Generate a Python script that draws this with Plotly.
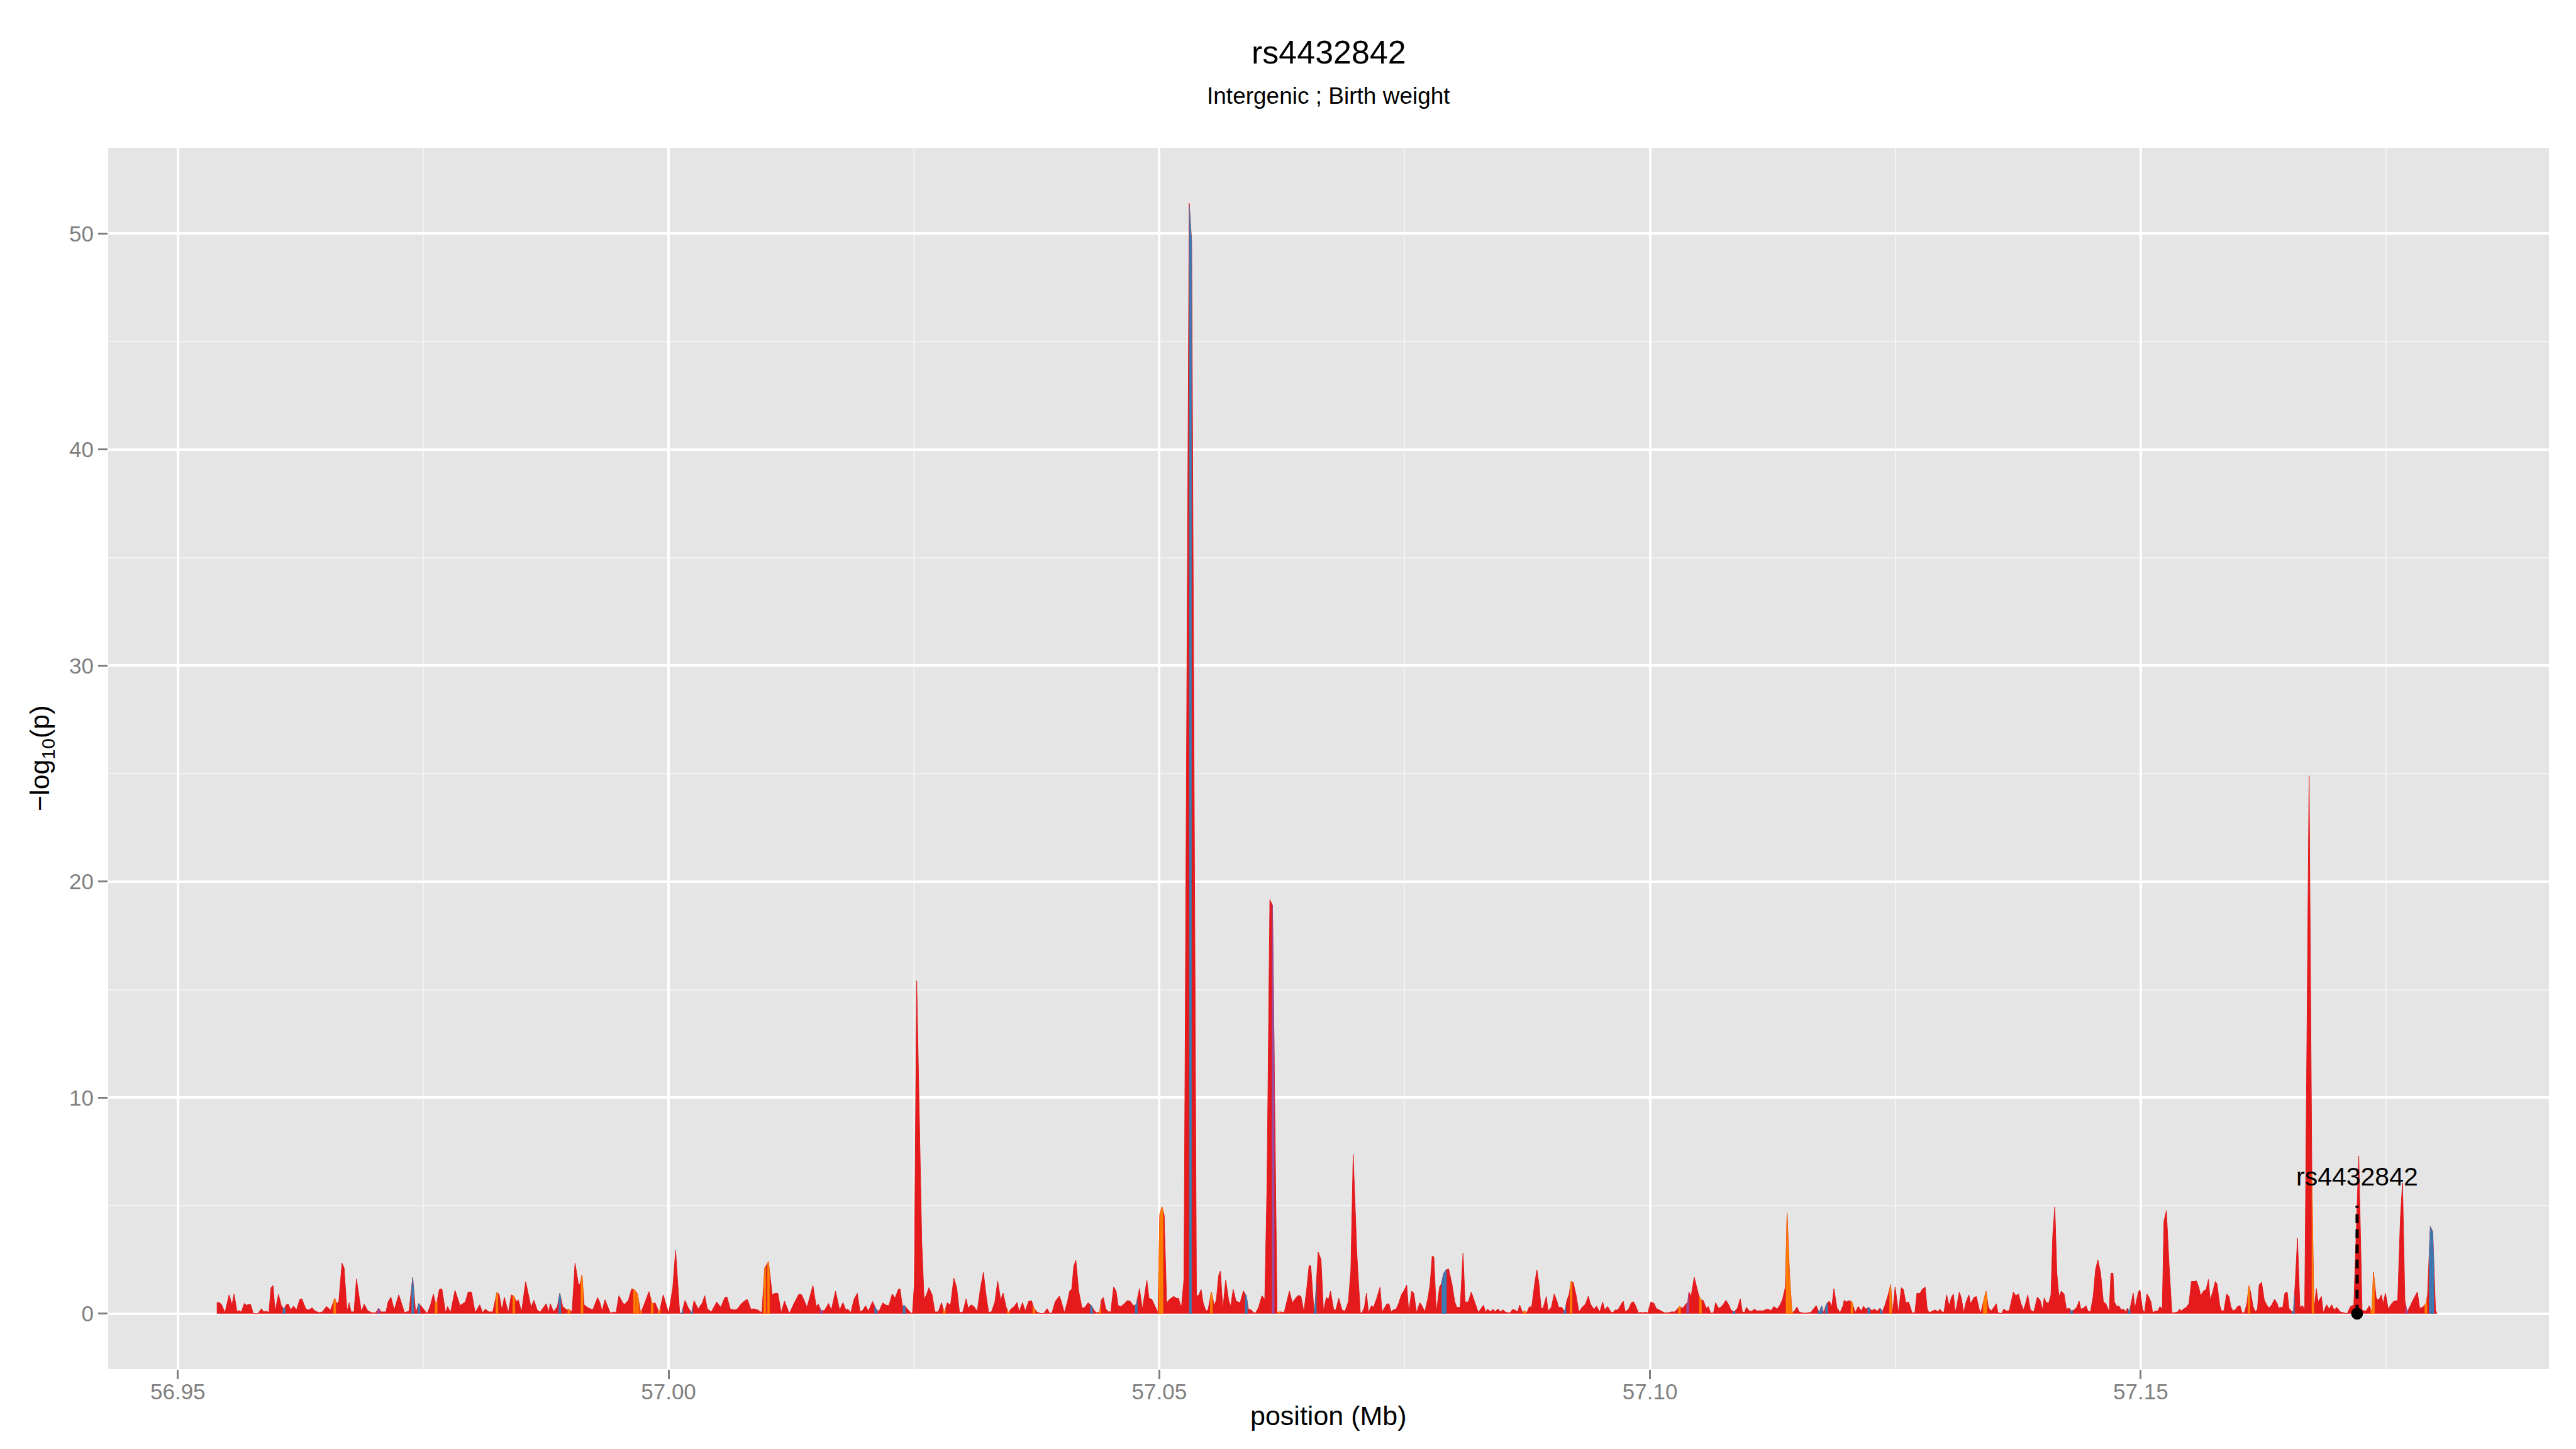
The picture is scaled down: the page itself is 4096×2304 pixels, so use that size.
import numpy as np
import plotly.graph_objects as go

# ---------------- data ----------------
pos_mb = [
    56.95397, 56.95426, 56.95447, 56.95480, 56.95522, 56.95552, 56.95573, 56.95602, 56.95623, 56.95648,
    56.95677, 56.95698, 56.95740, 56.95769, 56.95815, 56.95853, 56.95874, 56.95907, 56.95928, 56.95949,
    56.95970, 56.95991, 56.96025, 56.96054, 56.96083, 56.96104, 56.96125, 56.96150, 56.96179, 56.96209,
    56.96242, 56.96263, 56.96305, 56.96334, 56.96368, 56.96397, 56.96443, 56.96472, 56.96514, 56.96556,
    56.96598, 56.96619, 56.96640, 56.96673, 56.96694, 56.96724, 56.96744, 56.96765, 56.96795, 56.96820,
    56.96849, 56.96870, 56.96899, 56.96933, 56.96975, 56.97017, 56.97046, 56.97071, 56.97121, 56.97142,
    56.97171, 56.97205, 56.97251, 56.97276, 56.97310, 56.97356, 56.97393, 56.97423, 56.97456, 56.97490,
    56.97540, 56.97573, 56.97603, 56.97632, 56.97665, 56.97690, 56.97728, 56.97749, 56.97778, 56.97824,
    56.97875, 56.97929, 56.97958, 56.97992, 56.98029, 56.98076, 56.98105, 56.98134, 56.98168, 56.98209,
    56.98251, 56.98272, 56.98302, 56.98327, 56.98368, 56.98398, 56.98423, 56.98452, 56.98469, 56.98502,
    56.98544, 56.98599, 56.98628, 56.98661, 56.98691, 56.98754, 56.98779, 56.98795, 56.98829, 56.98867,
    56.98892, 56.98921, 56.98963, 56.98984, 56.99017, 56.99047, 56.99080, 56.99097, 56.99118, 56.99139,
    56.99172, 56.99227, 56.99277, 56.99298, 56.99323, 56.99352, 56.99381, 56.99407, 56.99444, 56.99465,
    56.99494, 56.99528, 56.99549, 56.99591, 56.99624, 56.99653, 56.99683, 56.99716, 56.99758, 56.99800,
    56.99833, 56.99863, 56.99905, 56.99946, 57.00001, 57.00043, 57.00072, 57.00114, 57.00135, 57.00168,
    57.00198, 57.00235, 57.00260, 57.00302, 57.00344, 57.00369, 57.00394, 57.00436, 57.00491, 57.00532,
    57.00574, 57.00595, 57.00629, 57.00671, 57.00700, 57.00742, 57.00784, 57.00804, 57.00838, 57.00871,
    57.00909, 57.00951, 57.00980, 57.01018, 57.01056, 57.01085, 57.01114, 57.01148, 57.01181, 57.01231,
    57.01277, 57.01328, 57.01357, 57.01411, 57.01471, 57.01504, 57.01525, 57.01555, 57.01588, 57.01630,
    57.01659, 57.01701, 57.01743, 57.01777, 57.01806, 57.01827, 57.01856, 57.01890, 57.01923, 57.01952,
    57.01982, 57.02007, 57.02036, 57.02078, 57.02111, 57.02141, 57.02183, 57.02216, 57.02245, 57.02279,
    57.02308, 57.02341, 57.02358, 57.02383, 57.02400, 57.02434, 57.02467, 57.02485, 57.02504, 57.02528,
    57.02559, 57.02580, 57.02604, 57.02630, 57.02653, 57.02685, 57.02714, 57.02748, 57.02781, 57.02810,
    57.02840, 57.02873, 57.02907, 57.02936, 57.02965, 57.02999, 57.03032, 57.03053, 57.03082, 57.03112,
    57.03145, 57.03179, 57.03208, 57.03237, 57.03262, 57.03292, 57.03325, 57.03354, 57.03384, 57.03409,
    57.03438, 57.03463, 57.03488, 57.03522, 57.03551, 57.03572, 57.03606, 57.03635, 57.03668, 57.03698,
    57.03723, 57.03752, 57.03794, 57.03827, 57.03857, 57.03886, 57.03907, 57.03940, 57.03982, 57.04003,
    57.04033, 57.04066, 57.04087, 57.04108, 57.04129, 57.04150, 57.04179, 57.04213, 57.04242, 57.04275,
    57.04309, 57.04338, 57.04359, 57.04393, 57.04409, 57.04430, 57.04455, 57.04485, 57.04506, 57.04535,
    57.04560, 57.04581, 57.04610, 57.04644, 57.04673, 57.04702, 57.04736, 57.04765, 57.04798, 57.04828,
    57.04874, 57.04895, 57.04924, 57.04953, 57.04987, 57.05005, 57.05028, 57.05050, 57.05075, 57.05095,
    57.05121, 57.05146, 57.05175, 57.05196, 57.05217, 57.05228, 57.05252, 57.05305, 57.05330, 57.05379,
    57.05405, 57.05426, 57.05447, 57.05476, 57.05497, 57.05531, 57.05560, 57.05581, 57.05606, 57.05623,
    57.05648, 57.05677, 57.05707, 57.05728, 57.05753, 57.05782, 57.05824, 57.05857, 57.05887, 57.05908,
    57.05937, 57.05962, 57.05983, 57.06012, 57.06046, 57.06075, 57.06098, 57.06127, 57.06154, 57.06200,
    57.06220, 57.06243, 57.06272, 57.06305, 57.06326, 57.06356, 57.06381, 57.06402, 57.06423, 57.06444,
    57.06473, 57.06502, 57.06527, 57.06544, 57.06577, 57.06590, 57.06619, 57.06648, 57.06673, 57.06703,
    57.06724, 57.06745, 57.06778, 57.06799, 57.06829, 57.06862, 57.06892, 57.06927, 57.06952, 57.06976,
    57.07013, 57.07049, 57.07069, 57.07090, 57.07111, 57.07132, 57.07162, 57.07182, 57.07216, 57.07249,
    57.07270, 57.07291, 57.07321, 57.07341, 57.07362, 57.07383, 57.07413, 57.07438, 57.07467, 57.07496,
    57.07521, 57.07542, 57.07572, 57.07593, 57.07622, 57.07655, 57.07676, 57.07706, 57.07739, 57.07760,
    57.07781, 57.07798, 57.07823, 57.07856, 57.07873, 57.07898, 57.07923, 57.07948, 57.07982, 57.08011,
    57.08032, 57.08066, 57.08095, 57.08116, 57.08149, 57.08179, 57.08208, 57.08233, 57.08250, 57.08275,
    57.08304, 57.08325, 57.08346, 57.08375, 57.08400, 57.08421, 57.08451, 57.08476, 57.08501, 57.08526,
    57.08547, 57.08576, 57.08597, 57.08618, 57.08652, 57.08673, 57.08702, 57.08723, 57.08744, 57.08773,
    57.08794, 57.08827, 57.08848, 57.08869, 57.08890, 57.08911, 57.08944, 57.08961, 57.08995, 57.09024,
    57.09049, 57.09070, 57.09099, 57.09120, 57.09133, 57.09154, 57.09175, 57.09196, 57.09217, 57.09246,
    57.09275, 57.09309, 57.09342, 57.09372, 57.09392, 57.09415, 57.09434, 57.09455, 57.09489, 57.09518,
    57.09539, 57.09568, 57.09602, 57.09623, 57.09644, 57.09673, 57.09698, 57.09727, 57.09748, 57.09782,
    57.09811, 57.09832, 57.09853, 57.09882, 57.09907, 57.09928, 57.09949, 57.09978, 57.10008, 57.10041,
    57.10062, 57.10091, 57.10125, 57.10146, 57.10188, 57.10217, 57.10250, 57.10271, 57.10301, 57.10334,
    57.10368, 57.10384, 57.10397, 57.10418, 57.10451, 57.10472, 57.10493, 57.10514, 57.10543, 57.10573,
    57.10594, 57.10619, 57.10648, 57.10669, 57.10698, 57.10719, 57.10744, 57.10774, 57.10803, 57.10824,
    57.10857, 57.10891, 57.10920, 57.10941, 57.10962, 57.10983, 57.11012, 57.11037, 57.11067, 57.11088,
    57.11121, 57.11142, 57.11171, 57.11200, 57.11234, 57.11263, 57.11297, 57.11326, 57.11351, 57.11380,
    57.11397, 57.11422, 57.11447, 57.11472, 57.11498, 57.11519, 57.11548, 57.11581, 57.11611, 57.11640,
    57.11665, 57.11694, 57.11724, 57.11749, 57.11770, 57.11799, 57.11828, 57.11853, 57.11874, 57.11904,
    57.11937, 57.11967, 57.11979, 57.12000, 57.12029, 57.12058, 57.12092, 57.12121, 57.12155, 57.12176,
    57.12197, 57.12230, 57.12259, 57.12289, 57.12314, 57.12343, 57.12356, 57.12364, 57.12393, 57.12427,
    57.12452, 57.12473, 57.12498, 57.12532, 57.12561, 57.12582, 57.12607, 57.12636, 57.12670, 57.12699,
    57.12720, 57.12749, 57.12774, 57.12804, 57.12825, 57.12846, 57.12879, 57.12908, 57.12935, 57.12953,
    57.12977, 57.12995, 57.13023, 57.13047, 57.13075, 57.13092, 57.13110, 57.13127, 57.13152, 57.13173,
    57.13197, 57.13221, 57.13249, 57.13267, 57.13302, 57.13326, 57.13354, 57.13371, 57.13406, 57.13424,
    57.13448, 57.13476, 57.13504, 57.13528, 57.13546, 57.13581, 57.13605, 57.13633, 57.13661, 57.13703,
    57.13727, 57.13755, 57.13780, 57.13807, 57.13832, 57.13849, 57.13877, 57.13912, 57.13947, 57.13975,
    57.14000, 57.14017, 57.14034, 57.14062, 57.14086, 57.14104, 57.14125, 57.14146, 57.14167, 57.14191,
    57.14219, 57.14243, 57.14271, 57.14296, 57.14320, 57.14348, 57.14373, 57.14390, 57.14418, 57.14442,
    57.14463, 57.14488, 57.14516, 57.14540, 57.14564, 57.14592, 57.14620, 57.14645, 57.14679, 57.14697,
    57.14718, 57.14732, 57.14756, 57.14777, 57.14802, 57.14826, 57.14847, 57.14865, 57.14882, 57.14900,
    57.14924, 57.14941, 57.14976, 57.14993, 57.15018, 57.15039, 57.15063, 57.15081, 57.15105, 57.15122,
    57.15150, 57.15175, 57.15196, 57.15220, 57.15237, 57.15262, 57.15290, 57.15318, 57.15342, 57.15377,
    57.15395, 57.15412, 57.15436, 57.15464, 57.15492, 57.15517, 57.15541, 57.15569, 57.15593, 57.15611,
    57.15639, 57.15667, 57.15691, 57.15708, 57.15736, 57.15761, 57.15778, 57.15806, 57.15824, 57.15848,
    57.15876, 57.15900, 57.15918, 57.15942, 57.15970, 57.15987, 57.16012, 57.16033, 57.16057, 57.16082,
    57.16103, 57.16120, 57.16145, 57.16169, 57.16190, 57.16207, 57.16232, 57.16260, 57.16284, 57.16308,
    57.16336, 57.16364, 57.16388, 57.16406, 57.16423, 57.16448, 57.16469, 57.16493, 57.16511, 57.16535,
    57.16556, 57.16574, 57.16598, 57.16622, 57.16650, 57.16671, 57.16716, 57.16744, 57.16765, 57.16790,
    57.16807, 57.16842, 57.16860, 57.16894, 57.16922, 57.16946, 57.16971, 57.16999, 57.17034, 57.17069,
    57.17104, 57.17138, 57.17172, 57.17222, 57.17256, 57.17297, 57.17330, 57.17355, 57.17372, 57.17400,
    57.17425, 57.17452, 57.17470, 57.17494, 57.17522, 57.17557, 57.17581, 57.17619, 57.17646, 57.17668,
    57.17692, 57.17714, 57.17749, 57.17773, 57.17819, 57.17843, 57.17871, 57.17906, 57.17923, 57.17951,
    57.17976, 57.18004, 57.18018,
]

neglog10_p = [
    .52, .50, .41, .04, .87, .41, .91, .10, .14, .08,
    .47, .39, .44, 0, 0, .23, .08, .11, .04, 1.20,
    1.30, .10, .89, .37, .21, .41, .44, .17, .35, .17,
    .65, .69, .21, .17, .27, .12, .04, .08, .33, .17,
    .71, .46, .56, 2.34, 2.12, .08, .50, .08, .08, 1.60,
    .71, .08, .44, .14, .04, .04, .25, .08, .08, .54,
    .76, .17, .87, .54, .04, .12, 1.68, .04, .47, .29,
    0, .37, .90, .37, 1.12, 1.15, .04, .33, .04, 1.08,
    .37, .54, 1.00, 1.00, .04, .41, .04, .21, .08, .08,
    .98, .91, .17, .75, .04, .87, .81, .54, .64, .08,
    1.48, .29, .62, .17, .07, .46, .07, .46, .08, .33,
    .95, .33, .17, .20, .08, 2.34, 1.41, 1.33, 1.80, .41,
    .29, .17, .74, .54, .12, .64, .33, .02, .08, .04,
    .83, .54, .41, .62, 1.15, 1.10, .91, .02, .50, 1.02,
    .46, .50, .04, .87, 0, 1.20, 2.92, 0, .04, .61,
    .29, .04, .60, .21, .50, .83, .23, .08, .54, .29,
    .75, .77, .21, .17, .21, .46, .62, .65, .21, .22,
    .17, .04, 2.12, 2.40, .87, .94, .94, .04, .58, 0,
    .46, .90, .87, .29, 1.30, .33, .44, .14, .14, .47,
    .17, 1.04, .17, .51, .17, .21, .04, .66, .94, .08,
    .17, .37, .11, .56, .25, .08, .50, .39, .37, .91,
    .72, 1.12, 1.15, .33, .39, .21, .04, 0, 1.34, 15.4,
    8.1, 3.3, .65, .90, 1.20, .87, .08, .08, .50, .04,
    .50, .39, 1.64, 1.20, .04, .08, .68, .25, .41, .33,
    .10, 1.20, 1.91, .79, .04, .10, .54, 1.51, .62, .95,
    .33, .04, .21, .33, .52, .08, .51, .12, .56, .60,
    .25, .08, 0, .02, .23, 0, .04, .56, .81, .54,
    .04, .58, 1.04, 1.14, 2.20, 2.47, 1.04, .25, .29, .50,
    .37, .14, .04, .08, .62, .75, .21, .08, .08, 1.24,
    1.04, .37, .33, .46, .60, .58, .37, .41, 1.16, .21,
    1.54, .71, .66, .37, .04, 4.60, 4.95, 4.55, .47, .62,
    .71, .80, .71, .71, .37, .40, 1.60, 51.4, 49.6, .80,
    .87, 1.12, .50, .12, .17, 1.00, .37, .62, 1.78, 1.97,
    .21, 1.55, .62, .33, 1.12, .58, .50, 1.05, .83, .21,
    .17, .04, .04, .29, .83, .66, 6.0, 19.16, 18.9, .05,
    .08, .08, .04, .62, 1.04, .50, .66, .79, .85, .79,
    .08, 1.12, 2.24, 2.20, .08, .54, 2.85, 2.50, .12, .75,
    .66, 1.04, .17, .17, .71, .17, .11, .55, 2.0, 7.37,
    2.8, 0, .08, .29, .95, .04, .37, .29, .71, 1.22,
    .08, .25, .46, .44, .08, .17, .21, .46, .87, 1.08,
    1.33, .08, 1.04, .95, .04, .51, .37, .08, .75, 1.37,
    2.67, 2.62, .04, 1.24, 1.37, 1.87, 2.03, 2.07, 1.37, .54,
    .29, .29, 2.80, .54, .54, 1.00, .62, .33, .06, .21,
    .39, .06, .21, .08, .21, .08, .22, .08, .18, .08,
    .04, .04, .18, .18, .08, .39, .04, .14, .04, .33,
    .29, 1.45, 2.03, 1.37, .25, .25, .79, .12, .29, .91,
    .62, .29, .29, .17, .12, .62, .87, 1.49, 1.45, .87,
    .08, .29, .44, .81, .46, .29, .21, .35, .08, .54,
    .17, .33, .08, .04, .17, .17, .37, .58, .08, .21,
    .51, .55, .37, .04, .06, .04, .06, .04, .54, .48,
    .25, .17, .08, .04, .04, .08, .08, .17, .33, .25,
    .46, .50, 1.00, .79, 1.68, 1.33, .91, .66, .61, .25,
    .33, .02, .04, .51, .25, .29, .41, .62, .41, .17,
    .08, .25, .69, .08, .04, .29, .12, .11, .21, .12,
    .14, .12, .17, .21, .14, .33, .21, .41, .66, 1.24,
    4.66, 1.78, .04, .12, .31, .08, .04, .02, .04, .06,
    .21, .37, .04, .37, .04, .46, .58, .33, 1.15, .29,
    .04, .37, .62, .54, .60, .54, .04, .33, .12, .35,
    .21, .29, .14, .21, .11, .25, .20, .04, .37, .87,
    1.34, .04, 1.24, .04, 1.20, 1.12, .50, .54, .04, .04,
    .95, .93, 1.12, 1.23, .21, .04, .12, .17, .08, .21,
    .08, .06, .87, .37, .79, .90, .04, .37, 1.00, .71,
    .04, .54, .87, .46, .75, .79, .21, .04, .71, 1.04,
    .29, .12, .29, .46, .04, 0, .21, .12, .14, 1.00,
    .83, .91, .46, .17, .54, .87, .17, .08, .77, .62,
    .17, .73, .54, .47, .87, 3.61, 4.94, 1.87, .79, 1.04,
    .91, .21, .25, .12, .17, .29, .58, .21, .25, .37,
    .12, .08, .79, 2.03, 2.49, 1.87, .54, .46, .08, 1.87,
    1.87, .54, .33, .36, .17, .21, .08, .25, .08, .41,
    .95, .25, 1.00, 1.10, .21, .04, .91, .79, .54, .04,
    .12, .12, .33, .21, 4.27, 4.77, 2.20, .04, .04, .08,
    .21, .12, .21, .29, .46, 1.49, 1.49, 1.51, 1.20, .83,
    1.04, 1.12, 1.58, .62, 1.04, 1.49, 1.37, .37, .12, .14,
    .91, .79, .33, .12, .21, .33, .37, .04, .04, .46,
    1.29, 1.00, .33, .08, .21, 1.33, 1.45, .62, .41, .25,
    .41, .66, .50, .25, .29, .29, .95, 1.00, .25, .12,
    .08, 1.37, 3.49, .29, .37, .15, 24.9, 6.5, .10, 1.16,
    .54, .79, .04, .41, .21, .41, .17, .29, .08, .04,
    0, .33, .40, 7.3, .15, .12, .37, .04, 1.91, .71,
    .62, .87, .46, .95, .21, .46, .58, .60, 4.4, 6.05,
    .60, .08, .37, .62, 1.00, .25, .29, .46, .87, 4.04,
    3.78, .17, 0,
]

# SNPs drawn in another colour than red (positions in Mb)
blue_snps = [56.96083, 56.97393, 56.97456, 56.98892, 57.00135, 57.00235, 57.02111, 57.02400,
             57.04309, 57.04765, 57.05318, 57.05887, 57.06590, 57.07890, 57.07915,
             57.09133, 57.10857, 57.11724, 57.11749, 57.11799, 57.12230, 57.12356, 57.14296,
             57.14882, 57.16556, 57.17951, 57.17976]
orange_snps = [56.96598, 56.97632, 56.98251, 56.98423, 56.98984, 56.99118, 56.99653, 56.99683,
               56.99716, 56.99833, 56.99905, 57.00980, 57.01018, 57.02810, 57.03463, 57.03723,
               57.04393, 57.05005, 57.05028, 57.05531, 57.06220, 57.08723, 57.09196, 57.10301,
               57.10514, 57.11397, 57.11422, 57.11447, 57.12058, 57.12452, 57.13406, 57.13424,
               57.16103, 57.16755, 57.17355, 57.17372, 57.17906]
purple_snps = [56.97046, 57.01555, 57.06160, 57.10384, 57.17714]

lead_snp = "rs4432842"
lead_pos = 57.17205
lead_logp = 0.0
lead_line_top = 5.0
lead_label_y = 6.35

title_text = "rs4432842"
subtitle_text = "Intergenic ; Birth weight"
x_title = "position (Mb)"
y_title = "\u2212log<sub>10</sub>(p)"
x_ticks = [56.95, 57.00, 57.05, 57.10, 57.15]
x_tick_labels = ["56.95", "57.00", "57.05", "57.10", "57.15"]
x_minor = [56.975, 57.025, 57.075, 57.125, 57.175]
y_ticks = [0, 10, 20, 30, 40, 50]
y_tick_labels = ["0", "10", "20", "30", "40", "50"]
y_minor = [5, 15, 25, 35, 45]

# ---------------- styling ----------------
RED, BLUE, ORANGE, PURPLE = "#E41A1C", "#377EB8", "#FF7F00", "#984EA3"
FONT = "Liberation Sans, Arial, Helvetica, sans-serif"
W, H = 4096, 2304
ML, MR, MT, MB = 164, 51, 227, 135
STRIPE_W = 0.00022

assert len(pos_mb) == len(neglog10_p), (len(pos_mb), len(neglog10_p))
order = np.argsort(pos_mb)
px = np.asarray(pos_mb, dtype=float)[order]
py = np.asarray(neglog10_p, dtype=float)[order]


def stripes(centers, width):
    xs, ys = [], []
    for c in centers:
        a, b = c - width / 2, c + width / 2
        inner = [p for p in px if a < p < b]
        xx = [a] + inner + [b]
        yy = list(np.interp(xx, px, py))
        xs += [a] + xx + [b, a, None]
        ys += [0.0] + yy + [0.0, 0.0, None]
    return xs, ys


fig = go.Figure()
fig.add_trace(go.Scatter(x=px, y=py, mode="lines", fill="tozeroy",
                         fillcolor=RED, line=dict(color=RED, width=1),
                         hoverinfo="skip"))
for centers, col in ((blue_snps, BLUE), (orange_snps, ORANGE), (purple_snps, PURPLE)):
    sx, sy = stripes(centers, STRIPE_W)
    fig.add_trace(go.Scatter(x=sx, y=sy, mode="lines", fill="toself",
                             fillcolor=col, line=dict(color=col, width=0.5),
                             hoverinfo="skip"))

fig.add_trace(go.Scatter(x=[lead_pos, lead_pos], y=[lead_logp, lead_line_top],
                         mode="lines", line=dict(color="black", width=5, dash="14px,10px")))
fig.add_trace(go.Scatter(x=[lead_pos], y=[lead_logp], mode="markers",
                         marker=dict(color="black", size=19), cliponaxis=False))

plot_h = H - MT - MB
plot_w = W - ML - MR


def py_paper(pix):
    return (H - MB - pix) / plot_h


def px_paper(pix):
    return (pix - ML) / plot_w


fig.update_layout(
    width=W, height=H,
    margin=dict(l=ML, r=MR, t=MT, b=MB, pad=0),
    plot_bgcolor="#E5E5E5", paper_bgcolor="white",
    showlegend=False,
    font=dict(family=FONT, color="black"),
    xaxis=dict(range=[56.9429, 57.1916], tickmode="array", tickvals=x_ticks,
               ticktext=x_tick_labels, ticks="outside", ticklen=15, tickwidth=3,
               tickcolor="#7F7F7F", tickfont=dict(size=35, color="#7F7F7F", family=FONT),
               ticklabelstandoff=-10,
               showgrid=True, gridcolor="white", gridwidth=4,
               minor=dict(tickmode="array", tickvals=x_minor, showgrid=True,
                          gridcolor="#F2F2F2", gridwidth=2, ticks=""),
               zeroline=False, showline=False, fixedrange=True),
    yaxis=dict(range=[-2.57, 53.97], tickmode="array", tickvals=y_ticks,
               ticktext=y_tick_labels, ticks="outside", ticklen=15, tickwidth=3,
               tickcolor="#7F7F7F", tickfont=dict(size=35, color="#7F7F7F", family=FONT),
               showgrid=True, gridcolor="white", gridwidth=4,
               minor=dict(tickmode="array", tickvals=y_minor, showgrid=True,
                          gridcolor="#F2F2F2", gridwidth=2, ticks=""),
               zeroline=False, showline=False, fixedrange=True),
    annotations=[
        dict(text=title_text, x=0.5, y=py_paper(75), xref="paper", yref="paper",
             showarrow=False, xanchor="center", yanchor="middle",
             font=dict(size=52, color="black", family=FONT)),
        dict(text=subtitle_text, x=0.5, y=py_paper(144), xref="paper", yref="paper",
             showarrow=False, xanchor="center", yanchor="middle",
             font=dict(size=37, color="black", family=FONT)),
        dict(text=x_title, x=0.5, y=py_paper(2243), xref="paper", yref="paper",
             showarrow=False, xanchor="center", yanchor="middle",
             font=dict(size=43, color="black", family=FONT)),
        dict(text=y_title, x=px_paper(58), y=0.5, xref="paper", yref="paper",
             showarrow=False, xanchor="center", yanchor="middle", textangle=-90,
             font=dict(size=43, color="black", family=FONT)),
        dict(text=lead_snp, x=lead_pos, y=lead_label_y, xref="x", yref="y",
             showarrow=False, xanchor="center", yanchor="middle",
             font=dict(size=41, color="black", family=FONT)),
    ],
)

fig.write_html("out.html")
